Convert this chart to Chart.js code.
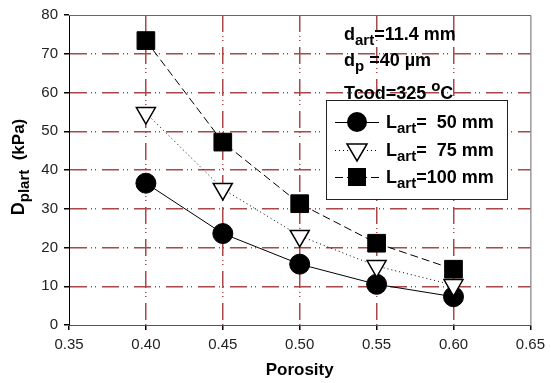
<!DOCTYPE html>
<html>
<head>
<meta charset="utf-8">
<script src="https://cdn.jsdelivr.net/npm/chart.js@4/dist/chart.umd.min.js"></script>
<style>
  html, body { margin: 0; padding: 0; background: #fff; }
  #wrap { width: 551px; height: 383px; }
</style>
</head>
<body>
<div id="wrap"><canvas id="chart" width="551" height="383"></canvas></div>
<script>
const porosity = [0.40, 0.45, 0.50, 0.55, 0.60];
const lart50 = [36.6, 23.6, 15.7, 10.5, 7.3];
const lart75 = [54.7, 35.1, 23.0, 15.2, 10.3];
const lart100 = [73.4, 47.2, 31.3, 21.1, 14.4];
const seriesLabels = ['50 mm', '75 mm', '100 mm'];

const FONT = '"Liberation Sans", Arial, sans-serif';
const gridRed = '#a84848';
const gridDash = [17, 4, 1, 3, 1, 6];

function toPoints(ys) {
  return porosity.map((x, i) => ({ x: x, y: ys[i] }));
}

// bits of text with subscripts drawn piece by piece
function drawRich(ctx, parts, x, y) {
  let cx = x;
  parts.forEach(p => {
    ctx.font = 'bold ' + p.size + 'px ' + FONT;
    ctx.fillText(p.t, cx, y + (p.dy || 0));
    cx += ctx.measureText(p.t).width;
  });
  return cx - x;
}

function richWidth(ctx, parts) {
  let w = 0;
  parts.forEach(p => {
    ctx.font = 'bold ' + p.size + 'px ' + FONT;
    w += ctx.measureText(p.t).width;
  });
  return w;
}

const extras = {
  id: 'extras',
  afterDraw(chart) {
    const ctx = chart.ctx;
    const a = chart.chartArea;
    ctx.save();

    // top and right frame
    ctx.strokeStyle = '#666';
    ctx.lineWidth = 1;
    ctx.beginPath();
    ctx.moveTo(a.left, a.top + 0.5);
    ctx.lineTo(a.right + 0.5, a.top + 0.5);
    ctx.lineTo(a.right + 0.5, a.bottom);
    ctx.stroke();

    ctx.fillStyle = '#000';
    ctx.textBaseline = 'alphabetic';
    ctx.textAlign = 'left';

    // axis titles
    ctx.font = 'bold 17px ' + FONT;
    ctx.textAlign = 'center';
    ctx.fillText('Porosity', (a.left + a.right) / 2, 375);
    ctx.textAlign = 'left';

    const yTitle = [
      { t: 'D', size: 18 },
      { t: 'plart', size: 15, dy: 5 },
      { t: '  (kPa)', size: 17 }
    ];
    ctx.save();
    ctx.translate(24, 167);
    ctx.rotate(-Math.PI / 2);
    drawRich(ctx, yTitle, -richWidth(ctx, yTitle) / 2, 0);
    ctx.restore();

    // conditions text
    drawRich(ctx, [{ t: 'd', size: 18 }, { t: 'art', size: 15, dy: 5 }, { t: '=11.4 mm', size: 18 }], 344, 40);
    drawRich(ctx, [{ t: 'd', size: 18 }, { t: 'p', size: 15, dy: 5 }, { t: ' =40 \u00b5m', size: 18 }], 344, 66);
    const w = drawRich(ctx, [{ t: 'Tcod=325 ', size: 18 }], 344, 99);
    drawRich(ctx, [{ t: 'o', size: 15, dy: -8 }, { t: 'C', size: 18 }], 344 + w, 99);

    // legend box
    const bx = 326, by = 100, bw = 181, bh = 99;
    ctx.fillStyle = '#fff';
    ctx.fillRect(bx, by, bw, bh);
    ctx.strokeStyle = '#222';
    ctx.lineWidth = 1;
    ctx.strokeRect(bx + 0.5, by + 0.5, bw, bh);

    const rows = [122, 150, 177];
    const dashes = [[], [1, 3], [8, 4]];
    const mx = 357;
    rows.forEach((ry, i) => {
      ctx.strokeStyle = '#000';
      ctx.lineWidth = 1;
      ctx.setLineDash(dashes[i]);
      ctx.beginPath();
      ctx.moveTo(335, ry + 0.5);
      ctx.lineTo(379, ry + 0.5);
      ctx.stroke();
      ctx.setLineDash([]);
      ctx.fillStyle = '#000';
      if (i === 0) {
        ctx.beginPath();
        ctx.arc(mx, ry, 10, 0, Math.PI * 2);
        ctx.fill();
      } else if (i === 1) {
        ctx.beginPath();
        ctx.moveTo(mx - 10, ry - 6);
        ctx.lineTo(mx + 10, ry - 6);
        ctx.lineTo(mx, ry + 11);
        ctx.closePath();
        ctx.fillStyle = '#fff';
        ctx.fill();
        ctx.lineWidth = 1.5;
        ctx.stroke();
      } else {
        ctx.fillRect(mx - 9, ry - 9, 18, 18);
      }
      ctx.fillStyle = '#000';
      const lab = i === 2 ? '=' + seriesLabels[i] : '=  ' + seriesLabels[i];
      drawRich(ctx, [{ t: 'L', size: 18 }, { t: 'art', size: 15, dy: 5 }, { t: lab, size: 18 }], 386, ry + 6);
    });

    ctx.restore();
  }
};

function edgeHidden(ctx, lo, hi) {
  const v = ctx.tick ? ctx.tick.value : null;
  if (v === null) return gridRed;
  if (Math.abs(v - lo) < 1e-6 || Math.abs(v - hi) < 1e-6) return 'rgba(0,0,0,0)';
  return gridRed;
}

new Chart(document.getElementById('chart'), {
  type: 'line',
  data: {
    datasets: [
      {
        label: 'Lart= 50 mm',
        data: toPoints(lart50),
        borderColor: '#000',
        borderWidth: 1,
        pointStyle: 'circle',
        pointRadius: 10,
        pointBackgroundColor: '#000',
        pointBorderColor: '#000',
        order: 3
      },
      {
        label: 'Lart= 75 mm',
        data: toPoints(lart75),
        borderColor: '#000',
        borderWidth: 1,
        borderDash: [1, 3],
        pointStyle: 'triangle',
        pointRotation: 180,
        pointRadius: 11,
        pointBackgroundColor: '#fff',
        pointBorderColor: '#000',
        pointBorderWidth: 1.5,
        order: 2
      },
      {
        label: 'Lart=100 mm',
        data: toPoints(lart100),
        borderColor: '#000',
        borderWidth: 1,
        borderDash: [8, 4],
        pointStyle: 'rect',
        pointRadius: 12.5,
        pointBackgroundColor: '#000',
        pointBorderColor: '#000',
        order: 1
      }
    ]
  },
  options: {
    responsive: false,
    animation: false,
    layout: { padding: { top: 13, right: 16, left: 0, bottom: 0 } },
    plugins: {
      legend: { display: false },
      tooltip: { enabled: false }
    },
    scales: {
      x: {
        type: 'linear',
        min: 0.35,
        max: 0.65,
        afterFit(scale) { scale.height = 58; },
        ticks: {
          stepSize: 0.05,
          padding: 6,
          color: '#222',
          font: { family: FONT, size: 15 },
          callback: v => v.toFixed(2)
        },
        grid: {
          color: ctx => edgeHidden(ctx, 0.35, 0.65),
          lineWidth: 1.5,
          tickColor: '#000',
          tickLength: 5
        },
        border: { color: '#555', width: 1, dash: gridDash }
      },
      y: {
        min: 0,
        max: 80,
        afterFit(scale) { scale.width = 69; },
        ticks: {
          stepSize: 10,
          padding: 6,
          color: '#222',
          font: { family: FONT, size: 15 }
        },
        grid: {
          color: ctx => edgeHidden(ctx, 0, 80),
          lineWidth: 1.5,
          tickColor: '#000',
          tickLength: 5
        },
        border: { color: '#000', width: 1, dash: gridDash }
      }
    }
  },
  plugins: [extras]
});
</script>
</body>
</html>
